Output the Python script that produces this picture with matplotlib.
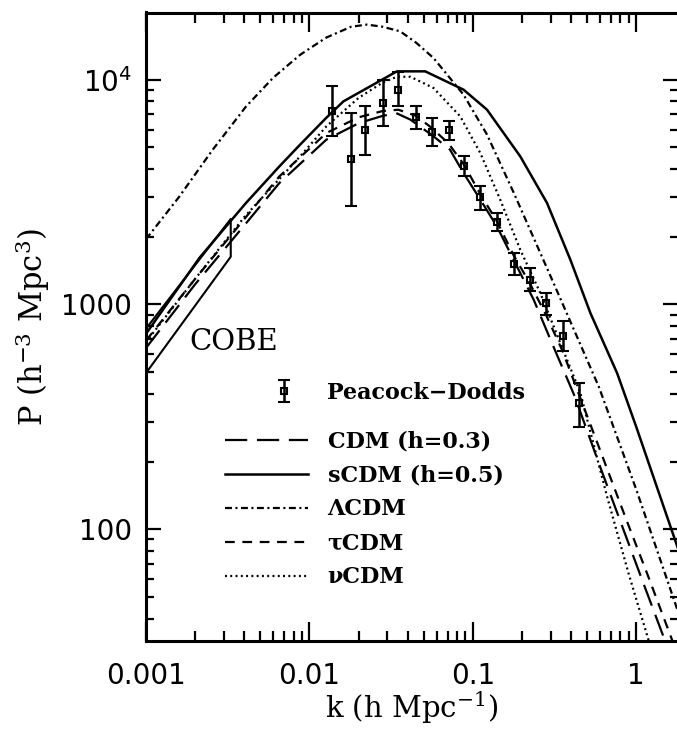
import matplotlib
matplotlib.use('Agg')
import matplotlib.pyplot as plt
from matplotlib.ticker import FixedLocator, FixedFormatter, LogLocator, NullFormatter

plt.rcParams['lines.scale_dashes'] = False
plt.rcParams['mathtext.fontset'] = 'dejavuserif'

# ---------------- data ----------------
# Peacock-Dodds points
pd_k = [0.0138, 0.0179, 0.0220, 0.0280, 0.0348, 0.0448, 0.0559, 0.0710,
        0.0882, 0.111, 0.1405, 0.1775, 0.2225, 0.280, 0.354, 0.446]
pd_P = [7226, 4436, 5989, 7876, 9026, 6823, 5868, 5947,
        4113, 2993, 2326, 1518, 1288, 1014, 726, 364]
pd_hi = [9403, 7109, 7605, 10000, 10855, 7659, 6755, 6523,
         4557, 3350, 2551, 1694, 1452, 1124, 840, 447]
pd_lo = [5595, 2749, 4636, 6197, 7605, 6033, 5084, 5370,
         3713, 2638, 2113, 1355, 1143, 900, 618, 286]

# CDM (h=0.3) - long dashes
cdm_k = [0.001, 0.002, 0.004, 0.00655, 0.0127, 0.02, 0.028, 0.034, 0.0415,
         0.0574, 0.0725, 0.0877, 0.111, 0.1405, 0.1775, 0.2355, 0.311, 0.42,
         0.6, 0.85, 1.1, 1.45, 1.8]
cdm_P = [640, 1230, 2250, 3470, 5410, 6400, 6900, 7100, 6640,
         5600, 4880, 3840, 2930, 2220, 1580, 1050, 650, 390,
         190, 96, 58, 34, 22]

# sCDM (h=0.5) - solid
scdm_k = [0.001, 0.00212, 0.00409, 0.00655, 0.00877, 0.01265, 0.01614, 0.0343,
          0.0511, 0.0877, 0.122, 0.195, 0.2843, 0.395, 0.524, 0.763, 1.0, 1.8]
scdm_P = [740, 1609, 2827, 4113, 5140, 6753, 8006, 10890,
          10890, 9026, 7355, 4557, 2827, 1581, 915, 495, 285, 82]

# Lambda CDM - dash-dot
lcdm_k = [0.001, 0.0016, 0.00256, 0.00409, 0.006, 0.00877, 0.01265, 0.018,
          0.0225, 0.028, 0.0359, 0.045, 0.0574, 0.0877, 0.122, 0.1775, 0.311,
          0.59, 1.0, 1.8]
lcdm_P = [1950, 3020, 4880, 7590, 10200, 12900, 15380, 17200,
          17580, 17200, 16410, 14600, 12490, 8575, 5700, 3150, 1250,
          430, 150, 43]

# tau CDM - short dashes
tcdm_k = [0.001, 0.002, 0.004, 0.00655, 0.0127, 0.02, 0.028, 0.035, 0.045,
          0.056, 0.071, 0.088, 0.111, 0.14, 0.178, 0.222, 0.28, 0.354,
          0.6, 0.85, 1.2, 1.66, 1.8]
tcdm_P = [690, 1300, 2400, 3713, 5790, 6800, 7250, 7350, 6900,
          6100, 5200, 4200, 3100, 2350, 1650, 1250, 900, 620,
          225, 115, 60, 32, 27]

# nu CDM - dotted
ncdm_k = [0.001, 0.002, 0.004, 0.00877, 0.0127, 0.02, 0.028, 0.0343, 0.0415,
          0.0574, 0.0837, 0.111, 0.147, 0.195, 0.2587, 0.343, 0.4546,
          0.662, 0.9, 1.19, 1.5]
ncdm_P = [680, 1300, 2450, 4557, 6200, 8300, 9700, 10300, 10300,
          9184, 6866, 4718, 2926, 1751, 1124, 673, 404,
          140, 63, 32, 17]

# COBE normalisation box
cobe_k = [0.001, 0.0033, 0.0033, 0.001, 0.001]
cobe_P = [780, 2400, 1630, 495, 780]

x_ticks = [0.001, 0.01, 0.1, 1]
x_labels = ['0.001', '0.01', '0.1', '1']
y_ticks = [100, 1000, 10000]
y_labels = ['100', '1000', r'$\mathregular{10^4}$']

# ---------------- figure ----------------
fig = plt.figure(figsize=(6.77, 7.30), dpi=100)
ax = fig.add_axes([146 / 677, 1 - 641 / 730, 532 / 677, 628.5 / 730])
ax.set_xscale('log')
ax.set_yscale('log')
ax.set_xlim(0.001, 1.8)
ax.set_ylim(31.8, 19900)

lw = 1.6
l_cdm, = ax.plot(cdm_k, cdm_P, color='black', lw=lw, dashes=(16, 7))
l_scdm, = ax.plot(scdm_k, scdm_P, color='black', lw=1.8)
l_lcdm, = ax.plot(lcdm_k, lcdm_P, color='black', lw=lw, dashes=(5, 2.5, 1.5, 2.5))
l_tcdm, = ax.plot(tcdm_k, tcdm_P, color='black', lw=lw, dashes=(7, 5.5))
l_ncdm, = ax.plot(ncdm_k, ncdm_P, color='black', lw=lw, dashes=(1.4, 2.4))

ax.plot(cobe_k, cobe_P, color='black', lw=1.5)

yerr = [[p - lo for p, lo in zip(pd_P, pd_lo)], [hi - p for p, hi in zip(pd_P, pd_hi)]]
eb = ax.errorbar(pd_k, pd_P, yerr=yerr, fmt='s', mfc='none', mec='black',
                 ms=5, mew=1.5, ecolor='black', elinewidth=1.8, capsize=4.5,
                 capthick=1.8)

ax.text(0.081, 0.463, 'COBE', transform=ax.transAxes, fontsize=21,
        family='DejaVu Serif', va='baseline', ha='left')

# axes styling
for s in ax.spines.values():
    s.set_linewidth(2.2)
ax.xaxis.set_major_locator(FixedLocator(x_ticks))
ax.xaxis.set_major_formatter(FixedFormatter(x_labels))
ax.xaxis.set_minor_locator(LogLocator(base=10, subs=range(2, 10), numticks=20))
ax.xaxis.set_minor_formatter(NullFormatter())
ax.yaxis.set_major_locator(FixedLocator(y_ticks))
ax.yaxis.set_major_formatter(FixedFormatter(y_labels))
ax.yaxis.set_minor_locator(LogLocator(base=10, subs=range(2, 10), numticks=20))
ax.yaxis.set_minor_formatter(NullFormatter())

ax.tick_params(axis='both', which='both', direction='in', top=True, right=True,
               width=1.6, colors='black')
ax.tick_params(axis='x', which='major', length=14, pad=15, labelsize=20)
ax.tick_params(axis='x', which='minor', length=7)
ax.tick_params(axis='y', which='major', length=11, pad=10, labelsize=20)
ax.tick_params(axis='y', which='minor', length=6)

ax.set_xlabel(r'k (h Mpc$^{-1}$)', fontsize=21, family='DejaVu Serif', labelpad=0)
ax.set_ylabel(r'P (h$^{-3}$ Mpc$^{3}$)', fontsize=22, family='DejaVu Serif', labelpad=7)

# legends
leg_font = {'family': 'DejaVu Serif', 'weight': 'bold', 'size': 16}
leg1 = ax.legend([eb], ['Peacock\u2212Dodds'], loc='center left',
                 bbox_to_anchor=(0.2147, 0.3945), frameon=False, prop=leg_font,
                 handlelength=2.16, handletextpad=0.86, borderpad=0,
                 borderaxespad=0)
ax.add_artist(leg1)
ax.legend([l_cdm, l_scdm, l_lcdm, l_tcdm, l_ncdm],
          ['CDM (h=0.3)', 'sCDM (h=0.5)', '\u039bCDM', '\u03c4CDM', '\u03bdCDM'],
          loc='upper left', bbox_to_anchor=(0.1488, 0.335), frameon=False,
          prop=leg_font, handlelength=3.75, handletextpad=0.86, borderpad=0,
          borderaxespad=0, labelspacing=0.54)

fig.savefig('out.png', dpi=100)
